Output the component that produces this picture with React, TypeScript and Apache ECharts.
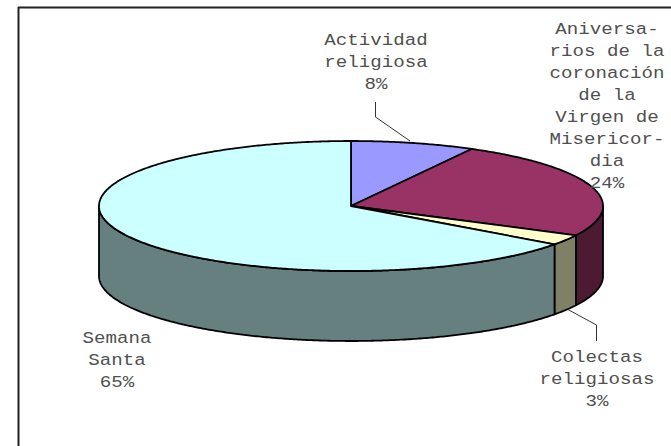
import React, { useEffect, useRef } from "react";
import * as echarts from "echarts";

const categories = ["Actividad religiosa", "Aniversarios de la coronación de la Virgen de Misericordia", "Colectas religiosas", "Semana Santa"];
const values = [7.95, 24.49, 2.6, 64.96];
const wrappedLabels = [
  ["Actividad", "religiosa"],
  ["Aniversa-", "rios de la", "coronación", "de la", "Virgen de", "Misericor-", "dia"],
  ["Colectas", "religiosas"],
  ["Semana", "Santa"],
];
const topColors = ["#9999ff", "#993366", "#ffffcc", "#ccffff"];
const sideColors = ["#4d4d80", "#4d1a33", "#808066", "#668080"];

const CX = 351, CY = 206, RX = 252, RY = 65, DEPTH = 70;
const labelAnchors = [
  [376, 40],
  [607, 29],
  [597, 357],
  [117, 338],
];
const FONT = "Liberation Mono";
const LABEL_SIZE = 16.5;
const LABEL_SCALE = 1.16;

const pt = (deg: number, dy = 0): number[] => {
  const r = (deg * Math.PI) / 180;
  return [CX + RX * Math.sin(r), CY - RY * Math.cos(r) + dy];
};
const arc = (a0: number, a1: number, dy = 0): number[][] => {
  const out: number[][] = [];
  const n = Math.max(2, Math.ceil((a1 - a0) * 2));
  for (let i = 0; i <= n; i++) out.push(pt(a0 + ((a1 - a0) * i) / n, dy));
  return out;
};

export default function App() {
  const ref = useRef<HTMLDivElement>(null);
  useEffect(() => {
    document.body.style.margin = "0";
    const chart = echarts.init(ref.current!, null, { renderer: "svg" });
    const total = values.reduce((a, b) => a + b, 0);
    const starts: number[] = [];
    values.reduce((acc, v, i) => {
      starts[i] = (acc / total) * 360;
      return acc + v;
    }, 0);
    const stroke = { stroke: "#000", lineWidth: 1.8, lineJoin: "round" };
    const renderItem = (params: any, api: any) => {
      const i = params.dataIndex;
      const a0 = starts[i];
      const a1 = a0 + (api.value(0) / total) * 360;
      const children: any[] = [];
      const s0 = Math.max(a0, 90), s1 = Math.min(a1, 270);
      if (s1 > s0) {
        children.push({
          type: "polygon",
          shape: { points: [...arc(s0, s1), ...arc(s0, s1, DEPTH).reverse()] },
          style: { fill: sideColors[i], ...stroke },
        });
      }
      children.push({
        type: "polygon",
        shape: { points: [[CX, CY], ...arc(a0, a1)] },
        style: { fill: topColors[i], ...stroke },
      });
      return { type: "group", children };
    };
    const labelGraphics: any[] = [];
    labelAnchors.forEach(([x, y], i) => {
      [...wrappedLabels[i], `${Math.round(values[i])}%`].forEach((line, k) => {
        labelGraphics.push({
          type: "text",
          x,
          y: y + k * 22,
          z: 20,
          scaleX: LABEL_SCALE,
          style: {
            text: line,
            font: `${LABEL_SIZE}px "${FONT}"`,
            fill: "#505050",
            textAlign: "center",
            textVerticalAlign: "middle",
          },
        });
      });
    });
    chart.setOption({
      animation: false,
      backgroundColor: "#fff",
      tooltip: { show: false },
      series: [
        {
          type: "custom",
          coordinateSystem: "none",
          silent: true,
          renderItem,
          data: values.map((v, i) => ({ name: categories[i], value: [v] })),
        },
      ],
      graphic: [
        { type: "line", shape: { x1: 18, y1: 7.5, x2: 671, y2: 7.5 }, style: { stroke: "#222", lineWidth: 2 } },
        { type: "line", shape: { x1: 18.5, y1: 7, x2: 18.5, y2: 446 }, style: { stroke: "#222", lineWidth: 2 } },
        { type: "polyline", shape: { points: [[375.5, 102], [375.5, 117], [410, 141]] }, style: { stroke: "#333", lineWidth: 1, fill: "none" } },
        { type: "polyline", shape: { points: [[596.5, 341], [596.5, 325], [567, 309]] }, style: { stroke: "#333", lineWidth: 1, fill: "none" } },
        ...labelGraphics,
      ],
    });
    return () => chart.dispose();
  }, []);
  return <div ref={ref} style={{ width: 671, height: 446 }} />;
}
